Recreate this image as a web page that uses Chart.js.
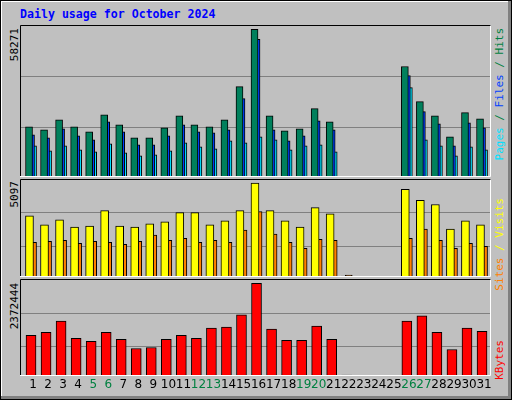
<!DOCTYPE html>
<html><head><meta charset="utf-8">
<script src="https://cdn.jsdelivr.net/npm/chart.js@4"></script>
<style>
html,body{margin:0;padding:0;background:#c0c0c0;}
#frame{position:absolute;left:0;top:0;width:510px;height:398px;border:1px solid #000;background:#c0c0c0;box-shadow:inset -3px -3px 0 #808080, inset 1px 1px 0 #fff;}
canvas{position:absolute;}
.t{position:absolute;font-family:"DejaVu Sans Mono",monospace;white-space:nowrap;}
.v{position:absolute;font-family:"DejaVu Sans Mono",monospace;font-size:11px;white-space:nowrap;writing-mode:vertical-rl;transform:rotate(180deg);}
</style></head><body>
<div id="frame"></div>
<div class="t" style="left:20px;top:7px;font-size:11.6px;font-weight:bold;color:#0000ff;">Daily usage for October 2024</div>
<div class="v" style="left:8px;top:28px;">58271</div>
<div class="v" style="left:8px;top:181px;">5097</div>
<div class="v" style="left:8px;top:283px;">2372444</div>
<div class="v" style="left:493px;top:28px;"><span style="color:#00e0ff">Pages</span><span style="color:#008040"> / </span><span style="color:#0040ff">Files</span><span style="color:#008040"> / Hits</span></div>
<div class="v" style="left:493px;top:198px;"><span style="color:#ff8000">Sites</span><span style="color:#ffff00"> / Visits</span></div>
<div class="v" style="left:493px;top:340px;color:#ff0000;">KBytes</div>
<canvas id="c1" style="left:20px;top:25px;width:471px;height:152px;"></canvas>
<canvas id="c2" style="left:20px;top:179px;width:471px;height:98px;"></canvas>
<canvas id="c3" style="left:20px;top:279px;width:471px;height:118px;"></canvas>
<script>
const days=[1,2,3,4,5,6,7,8,9,10,11,12,13,14,15,16,17,18,19,20,21,22,23,24,25,26,27,28,29,30,31];
const weekend=[5,6,12,13,19,20,26,27];
const hits=[19820,18631,22595,19820,17838,24577,20613,15460,15460,19424,24180,20613,19820,22595,35676,58271,24180,18234,19027,26955,21802,150,null,null,null,43604,29730,24180,15856,25370,22991];
const files=[16650,15460,19027,16252,14667,21802,17838,12685,12685,16252,20613,17838,17441,18631,30919,54306,18631,14270,16252,22198,18631,100,null,null,null,40036,25766,21009,12288,21405,19424];
const pages=[12288,10306,12288,10703,9910,13081,9513,8324,8721,10306,13477,11892,11099,14270,13477,15856,14667,10703,12288,12685,9910,80,null,null,null,35279,14667,12288,8324,11892,10703];
const visits=[3324,2826,3103,2715,2770,3601,2770,2715,2881,2992,3490,3490,2826,3047,3601,5097,3601,3047,2715,3767,3435,55,null,null,null,4765,4155,3934,2604,3047,2826];
const sites=[1884,1939,1994,1828,1939,1884,1773,1939,2272,1994,2105,1884,1994,1884,2549,3546,2327,1884,1551,2050,1994,110,null,null,null,2105,2604,1994,1551,1828,1662];
const kbytes=[1042800,1121000,1407800,964600,886400,1121000,938500,703900,730000,938500,1042800,964600,1225300,1251400,1564200,2372444,1199200,912500,912500,1277400,938500,26000,null,null,null,1407800,1538100,1121000,677800,1225300,1147100];

const pts=(arr,off)=>days.map((d,i)=>({x:d+off,y:arr[i]}));
const ds=(arr,off,color,w)=>({data:pts(arr,off),backgroundColor:color,borderColor:'#000',borderWidth:1,barThickness:w,grouped:false,borderSkipped:false});
const frame={id:'frame',afterDraw(c){const a=c.chartArea,x=c.ctx;x.save();x.lineWidth=1;
 x.strokeStyle='#000';x.beginPath();x.moveTo(0.5,a.bottom);x.lineTo(0.5,0.5);x.lineTo(a.right,0.5);x.stroke();
 x.strokeStyle='#fff';x.beginPath();x.moveTo(a.right-0.5,0.5);x.lineTo(a.right-0.5,a.bottom-0.5);x.lineTo(0,a.bottom-0.5);x.stroke();x.restore();}};
function mk(id,sets,ymax,grid,bottomPad,extra){
 return new Chart(document.getElementById(id),{type:'bar',data:{datasets:sets},
 options:{responsive:false,animation:false,devicePixelRatio:1,layout:{padding:{left:0,right:0,top:0,bottom:bottomPad}},
 datasets:{bar:{grouped:false}},
 plugins:{legend:{display:false},tooltip:{enabled:false}},
 scales:{x:{type:'linear',min:0.4,max:31.73,offset:false,display:false},
 y:{min:0,max:ymax,display:true,ticks:{display:false},border:{display:false},grid:{color:'#808080',drawTicks:false,lineWidth:1},
 afterBuildTicks(ax){ax.ticks=grid.map(v=>({value:v}));},afterFit(ax){ax.width=0;}}}},
 plugins:[frame].concat(extra||[])});
}
for(const [id,w,h] of [['c1',471,152],['c2',471,98],['c3',471,118]]){const c=document.getElementById(id);c.width=w;c.height=h;}
mk('c1',[ds(hits,0,'#00805c',7),ds(files,0.133,'#0040ff',7),ds(pages,0.267,'#00e0ff',7)],59975,[19424,39640],0);
mk('c2',[ds(visits,0.03,'#ffff00',8),ds(sites,0.267,'#ff8000',7)],5319,[1662,3491],0);
const labels={id:'lbl',afterDraw(c){const x=c.ctx,s=c.scales.x;x.save();x.font='12px "DejaVu Sans"';x.textAlign='center';x.textBaseline='top';
 days.forEach(d=>{x.fillStyle=weekend.includes(d)?'#008040':'#000';x.fillText(String(d),s.getPixelForValue(d+0.27),c.chartArea.bottom+3);});x.restore();}};
mk('c3',[ds(kbytes,0.133,'#ff0000',10)],2484550,[764000,1608500],21,[labels]);
</script></body></html>
